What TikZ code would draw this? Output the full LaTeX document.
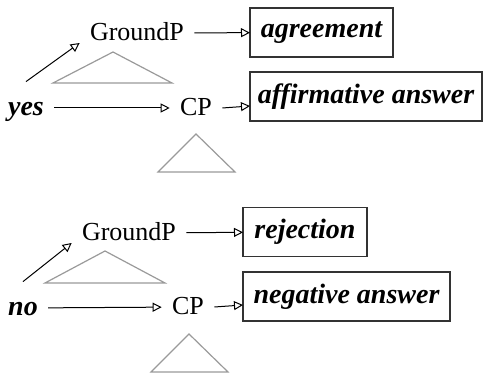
\documentclass[tikz,border=0pt]{standalone}
\usepackage{fontspec}
\setmainfont{Liberation Serif}
\usetikzlibrary{arrows.meta,positioning}
\definecolor{trigray}{HTML}{9A9A9A}

\begin{document}
\begin{tikzpicture}[x=0.5pt,y=-0.5pt,
  lab/.style={inner sep=5pt,text height=10pt,text depth=2pt,font=\fontsize{13}{15}\selectfont},
  word/.style={lab,font=\fontsize{14}{16}\selectfont\bfseries\itshape},
  ans/.style={draw=black!80,line width=0.6pt,anchor=west,inner sep=0pt,outer sep=0pt,
              minimum height=24.5pt,font=\fontsize{14}{16}\selectfont\bfseries\itshape},
  ar/.style={-{Triangle[open,length=4.5pt,width=4.5pt]},line width=0.5pt},
  tri/.style={draw=trigray,line width=0.6pt}]
\useasboundingbox (0,0) rectangle (483,373);
% yes
\node[word] (yes) at (26,108) {yes};
\node[lab] (gp1) at (137,33) {GroundP};
\node[lab] (cp1) at (196,108) {CP};
\node[ans,minimum width=71.5pt] (agr) at (250,32.5) {agreement};
\node[ans,minimum width=116pt] (aff) at (250,96.5) {affirmative answer};
\coordinate (h1) at (0,106);
\draw[tri] (113,52) -- (172,83) -- (53,83) -- cycle;
\draw[tri] (196,134) -- (235,172) -- (158,172) -- cycle;
\draw[ar] ([yshift=2pt]yes.north) -- ([yshift=-5pt]gp1.west);
\draw[ar] (yes) -- (cp1);
\draw[ar] (gp1) -- (agr);
\draw[ar] (cp1.east) -- (aff.west |- h1);
% no
\node[word] (no) at (23,308) {no};
\node[lab] (gp2) at (129,233) {GroundP};
\node[lab] (cp2) at (188,307) {CP};
\node[ans,minimum width=62pt] (rej) at (243,232) {rejection};
\node[ans,minimum width=103.5pt] (neg) at (243,296.5) {negative answer};
\coordinate (h2) at (0,305);
\draw[tri] (105,251) -- (165,283) -- (45,283) -- cycle;
\draw[tri] (189,334) -- (228,372) -- (151,372) -- cycle;
\draw[ar] ([yshift=2pt]no.north) -- ([yshift=-5pt]gp2.west);
\draw[ar] (no) -- (cp2);
\draw[ar] (gp2) -- (rej);
\draw[ar] (cp2.east) -- (neg.west |- h2);
\end{tikzpicture}
\end{document}
